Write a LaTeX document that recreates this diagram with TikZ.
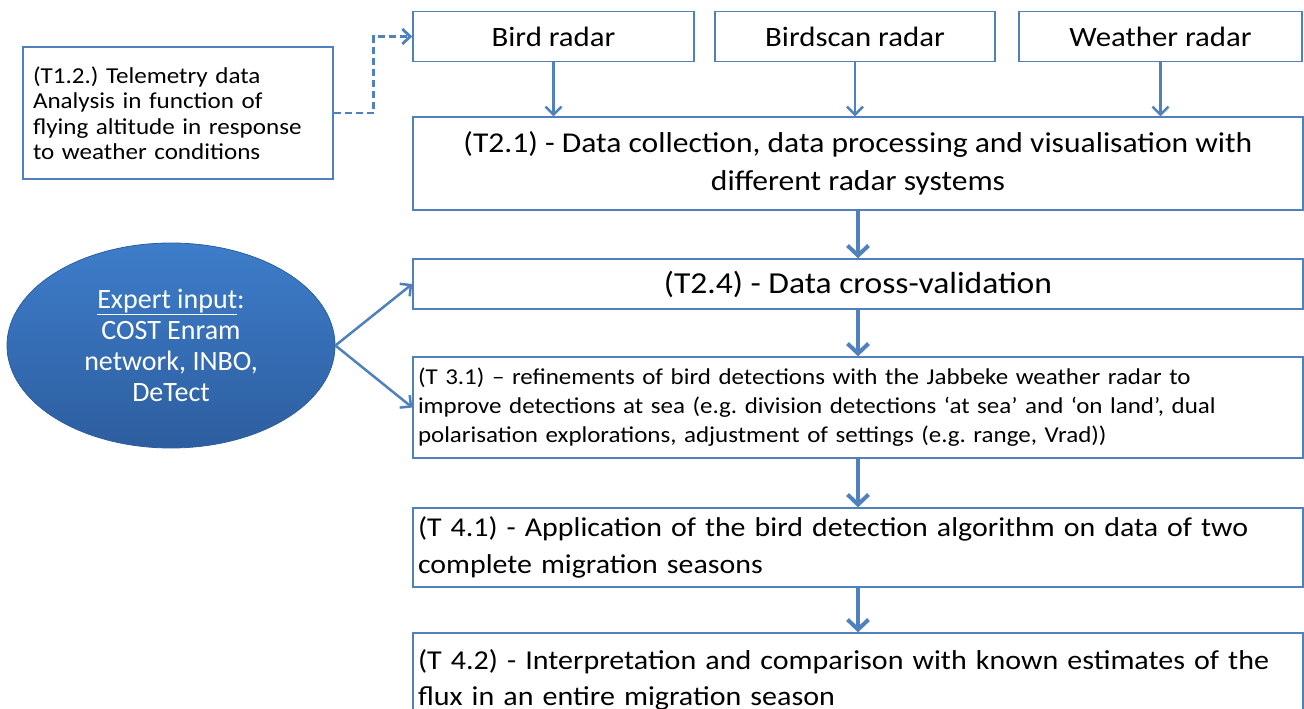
\documentclass[tikz,border=0pt]{standalone}
\usepackage{fontspec}
\setmainfont{Carlito}
\newfontfamily\wfont{Carlito}[FakeStretch=1.1]
\frenchspacing
\usetikzlibrary{arrows.meta,shapes.geometric}
\definecolor{obl}{HTML}{4F81BD}
\definecolor{elltop}{HTML}{3E7DCA}
\definecolor{ellbot}{HTML}{2D5E9F}
\newcommand{\fs}[2]{\wfont\fontsize{#1}{#2}\selectfont}
\begin{document}
\begin{tikzpicture}[x=1pt,y=-1pt,
  box/.style={draw=obl, line width=1.4pt, fill=white, inner sep=0pt, align=center,
    font=\fs{28}{37}},
  lbox/.style={box, align=left, inner sep=5pt, text width=880pt, minimum width=890pt},
  bigarrow/.style={draw=obl, line width=4pt, -{Straight Barb[length=10pt,width=21pt]}},
  smallarrow/.style={draw=obl, line width=2.5pt, -{Straight Barb[length=8pt,width=16pt]}},
  dasharrow/.style={draw=obl, line width=2.8pt, dash pattern=on 7pt off 4pt, -{Straight Barb[length=8pt,width=15pt]}},
  expert/.style={ellipse, draw=ellbot, line width=0.8pt, top color=elltop, bottom color=ellbot,
    minimum width=328pt, minimum height=205pt, inner sep=0pt, align=center, text=white,
    font=\fontsize{28}{31}\selectfont}
]
\useasboundingbox (0,0) rectangle (1304,709);
\clip (0,0) rectangle (1304,709);
\fill[white] (0,0) rectangle (1304,709);

% top radar boxes
\node[box, minimum width=281pt, minimum height=50pt] (bird) at (553.5,36.5) {Bird radar};
\node[box, minimum width=280pt, minimum height=50pt] (birdscan) at (855,36.5) {Birdscan radar};
\node[box, minimum width=283pt, minimum height=50pt] (weather) at (1160.5,36.5) {Weather radar};

% telemetry box
\node[box, align=left, inner sep=10pt, text width=290pt, minimum height=132pt,
  font=\fs{22.8}{25.5}] (t12) at (178,113)
  {(T1.2.) Telemetry data\\Analysis in function of\\flying altitude in response\\to weather conditions};

% main column
\node[box, minimum width=890pt, minimum height=93pt, font=\fs{28.7}{38}] (t21) at (858,163.5)
  {(T2.1) - Data collection, data processing and visualisation with\\different radar systems};
\node[box, minimum width=890pt, minimum height=50pt, font=\fs{30.5}{37}] (t24) at (858,284)
  {(T2.4) - Data cross-validation};
\node[lbox, minimum height=101pt, font=\fs{22.7}{29}] (t31) at (858,407.5)
  {(T 3.1) – refinements of bird detections with the Jabbeke weather radar to\\improve detections at sea (e.g. division detections ‘at sea’ and ‘on land’, dual\\polarisation explorations, adjustment of settings (e.g. range, Vrad))};
\node[lbox, minimum height=79pt, font=\fs{27.2}{37}] (t41) at (858,547.5)
  {(T 4.1) - Application of the bird detection algorithm on data of two\\complete migration seasons};
\node[lbox, minimum height=94pt, font=\fs{27.3}{36}] (t42) at (858,680)
  {(T 4.2) - Interpretation and comparison with known estimates of the\\flux in an entire migration season};

% expert ellipse
\node[expert] (exp) at (171,345.5)
  {\underline{Expert input}:\\COST Enram\\network, INBO,\\DeTect};

% connectors
\draw[smallarrow] (bird.south) -- (bird.south |- t21.north);
\draw[smallarrow] (birdscan.south) -- (birdscan.south |- t21.north);
\draw[smallarrow] (weather.south) -- (weather.south |- t21.north);
\draw[bigarrow] (t21.south) -- (t24.north);
\draw[bigarrow] (t24.south) -- (t31.north);
\draw[bigarrow] (t31.south) -- (t41.north);
\draw[bigarrow] (t41.south) -- (t42.north);
\draw[smallarrow] (exp.east) -- (t24.west);
\draw[smallarrow] (exp.east) -- (t31.west);
\draw[dasharrow] (t12.east) -- ++(40,0) |- (bird.west);
\end{tikzpicture}
\end{document}
